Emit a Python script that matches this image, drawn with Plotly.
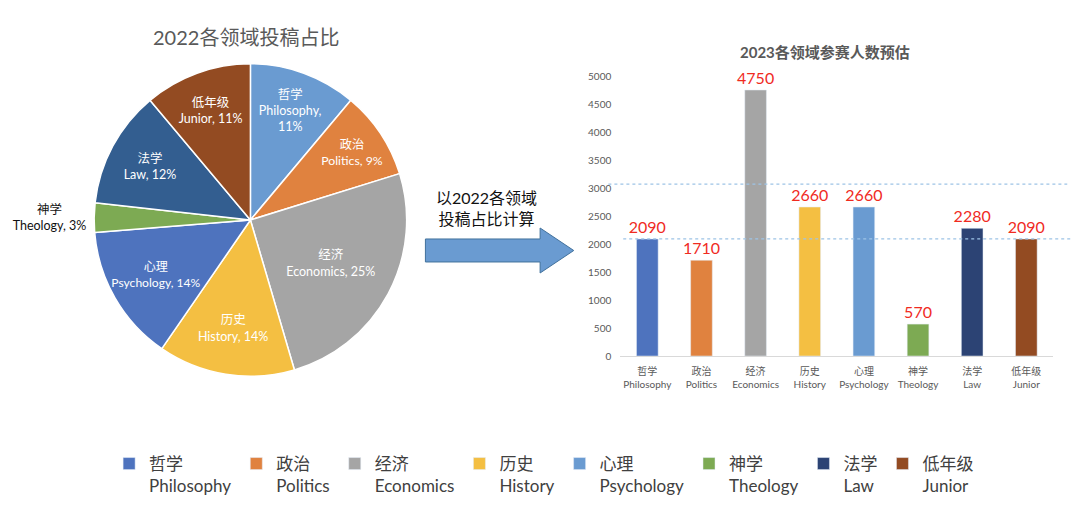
import plotly.graph_objects as go

# ── data ──
cn_names = ["哲学", "政治", "经济", "历史", "心理", "神学", "法学", "低年级"]
en_names = ["Philosophy", "Politics", "Economics", "History", "Psychology", "Theology", "Law", "Junior"]
share_2022 = [11, 9, 25, 14, 14, 3, 12, 11]          # 2022 投稿占比 (%)
count_2023 = [2090, 1710, 4750, 2660, 2660, 570, 2280, 2090]  # 2023 参赛人数预估
ref_lines = [3070, 2090]                              # 图上的两条虚线

pie_colors = ["#6A9BD1", "#E0823F", "#A5A5A5", "#F4BF42", "#4E73BE", "#7DAA53", "#335E90", "#934B22"]
bar_colors = ["#4E73BE", "#E0823F", "#A5A5A5", "#F4BF42", "#6A9BD1", "#7DAA53", "#2C4374", "#934B22"]

W, H = 1080, 510
OX, OY = 8, 8          # 页面 body 默认 8px 边距，坐标里扣掉
FONT = "Lato, Noto Sans CJK SC, sans-serif"


def px(x):
    return (x - OX) / W


def py(y):
    return 1 - (y - OY) / H


fig = go.Figure()

# ── 左: 饼图 ──
pie_text = []
for c, e, s in zip(cn_names, en_names, share_2022):
    if e == "Philosophy":
        pie_text.append(f"{c}<br>{e},<br>{s}%")
    else:
        pie_text.append(f"{c}<br>{e}, {s}%")

fig.add_trace(go.Pie(
    labels=en_names, values=share_2022, text=pie_text,
    textinfo="text", sort=False, direction="clockwise", rotation=0,
    marker=dict(colors=pie_colors, line=dict(color="white", width=1.5)),
    textposition=["outside" if e == "Theology" else "inside" for e in en_names],
    insidetextorientation="horizontal",
    insidetextfont=dict(color="white", size=12.5, family=FONT),
    outsidetextfont=dict(color="#111111", size=12.5, family=FONT),
    domain=dict(x=[px(83), px(399)], y=[py(378), py(62)]),
    showlegend=False, hoverinfo="label+percent",
))

# ── 右: 柱状图 (每类一条 trace，用于图例) ──
for c, e, v, col in zip(cn_names, en_names, count_2023, bar_colors):
    fig.add_trace(go.Bar(
        x=[e], y=[v], name=f"{c}<br>{e}",
        marker=dict(color=col),
        text=[str(v)], textposition="outside", cliponaxis=False,
        constraintext="none",
        textfont=dict(color="#F02B1F", size=16, family=FONT),
    ))

shapes = [
    dict(type="line", xref="paper", yref="y", x0=px(603), x1=px(1067),
         y0=ref_lines[0], y1=ref_lines[0], line=dict(color="#9DC3E6", width=1.2, dash="dot")),
    dict(type="line", xref="paper", yref="y", x0=px(618), x1=1.0,
         y0=ref_lines[1], y1=ref_lines[1], line=dict(color="#9DC3E6", width=1.2, dash="dot")),
]

# 中间的箭头
arrow_pts = [(418, 239), (534, 239), (534, 228), (568, 250.5), (534, 273), (534, 262), (418, 262)]
path = "M " + " L ".join(f"{px(x):.4f},{py(y):.4f}" for x, y in arrow_pts) + " Z"
shapes.append(dict(type="path", xref="paper", yref="paper", path=path,
                   fillcolor="#6A9BD1", line=dict(color="#41719C", width=1)))

annotations = [
    dict(text="2022各领域投稿占比", x=px(237), y=py(37), xref="paper", yref="paper",
         xanchor="center", yanchor="middle",
         showarrow=False, font=dict(size=20, color="#595959", family=FONT)),
    dict(text="<b>2023各领域参赛人数预估</b>", x=px(822), y=py(52), xref="paper", yref="paper",
         xanchor="center", yanchor="middle",
         showarrow=False, font=dict(size=15, color="#595959", family=FONT)),
    dict(text="以2022各领域<br>投稿占比计算", x=px(480), y=py(208), xref="paper", yref="paper",
         xanchor="center", yanchor="middle",
         showarrow=False, font=dict(size=16, color="#111111", family=FONT)),
]

fig.update_layout(
    width=W, height=H,
    margin=dict(l=0, r=0, t=0, b=0),
    paper_bgcolor="white", plot_bgcolor="white",
    font=dict(family=FONT),
    barmode="overlay", bargap=0.6,
    xaxis=dict(domain=[px(615), px(1053)], showline=True, linecolor="#D9D9D9",
               ticks="", automargin=False, fixedrange=True, ticklabelstandoff=6,
               tickvals=en_names,
               ticktext=[f"{c}<br>{e}" for c, e in zip(cn_names, en_names)],
               tickfont=dict(size=10, color="#595959")),
    yaxis=dict(domain=[py(356), py(76)], range=[0, 5000], dtick=500,
               showgrid=False, zeroline=False, showline=False, ticks="",
               automargin=False, ticklabelstandoff=8,
               tickfont=dict(size=10, color="#595959")),
    legend=dict(orientation="h", x=px(538), xanchor="center", y=py(446), yanchor="top",
                valign="top", font=dict(size=17, color="#404040", family=FONT),
                itemclick=False),
    shapes=shapes, annotations=annotations,
)

fig.write_html("out.html")
